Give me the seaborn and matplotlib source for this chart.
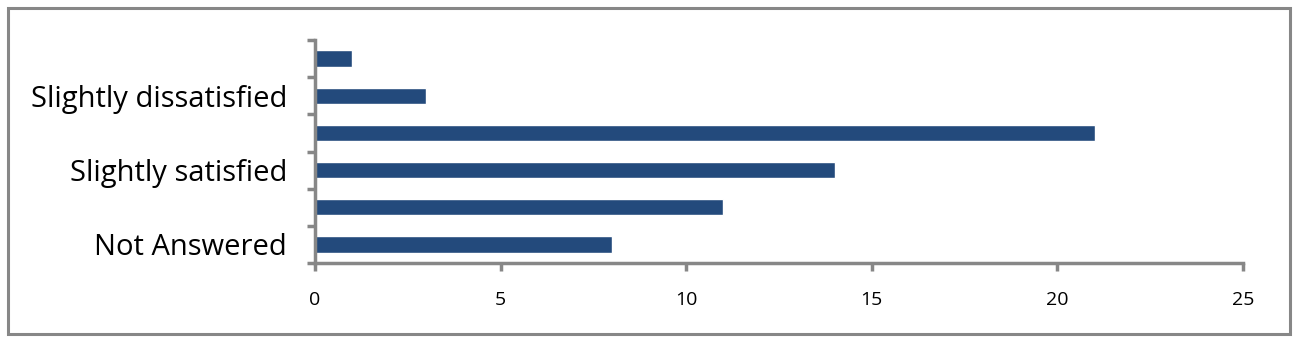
import matplotlib
matplotlib.use("Agg")
import matplotlib.pyplot as plt
import numpy as np
import pandas as pd
import seaborn as sns
from matplotlib.patches import Rectangle

# data, top to bottom (Excel only prints every other category label)
categories = ["Very dissatisfied", "Slightly dissatisfied", "Neutral",
              "Slightly satisfied", "Very satisfied", "Not Answered"]
shown_labels = ["", "Slightly dissatisfied", "", "Slightly satisfied", "", "Not Answered"]
counts = [1, 3, 21, 14, 11, 8]
x_ticks = [0, 5, 10, 15, 20, 25]

df = pd.DataFrame({"category": categories, "count": counts})

sns.set_theme(style="white")
plt.rcParams["font.family"] = ["Open Sans", "DejaVu Sans"]

grey = "#878787"
fig = plt.figure(figsize=(12.98, 3.42), dpi=100)
ax = fig.add_axes([315 / 1298, 1 - 263 / 342, (1243 - 315) / 1298, (263 - 40) / 342])

sns.barplot(data=df, y="category", x="count", order=categories, orient="h",
            color="#234a7c", saturation=1, width=0.44, ax=ax)

ax.set_xlim(0, 25)
ax.set_ylim(len(categories) - 0.5, -0.5)
ax.set_xticks(x_ticks)
ax.set_xticklabels([str(t) for t in x_ticks], fontsize=14, color="black")
ax.set_yticks(range(len(categories)))
ax.set_yticklabels(shown_labels, fontsize=21, color="black")
ax.set_yticks(np.arange(-0.5, len(categories), 1), minor=True)
ax.tick_params(axis="y", which="major", length=0, pad=20)
ax.tick_params(axis="y", which="minor", length=6, width=2.5, color=grey, direction="out", left=True)
ax.tick_params(axis="x", which="major", length=6, width=2.5, color=grey, direction="out", bottom=True, pad=14)
ax.set_xlabel("")
ax.set_ylabel("")

for side in ["top", "right"]:
    ax.spines[side].set_visible(False)
for side in ["left", "bottom"]:
    ax.spines[side].set_color(grey)
    ax.spines[side].set_linewidth(2.5)

fig.patches.append(Rectangle((8 / 1298, 8 / 342), 1282 / 1298, 326 / 342,
                             transform=fig.transFigure, fill=False,
                             edgecolor=grey, linewidth=2.2))

fig.savefig("out.png", dpi=100)
